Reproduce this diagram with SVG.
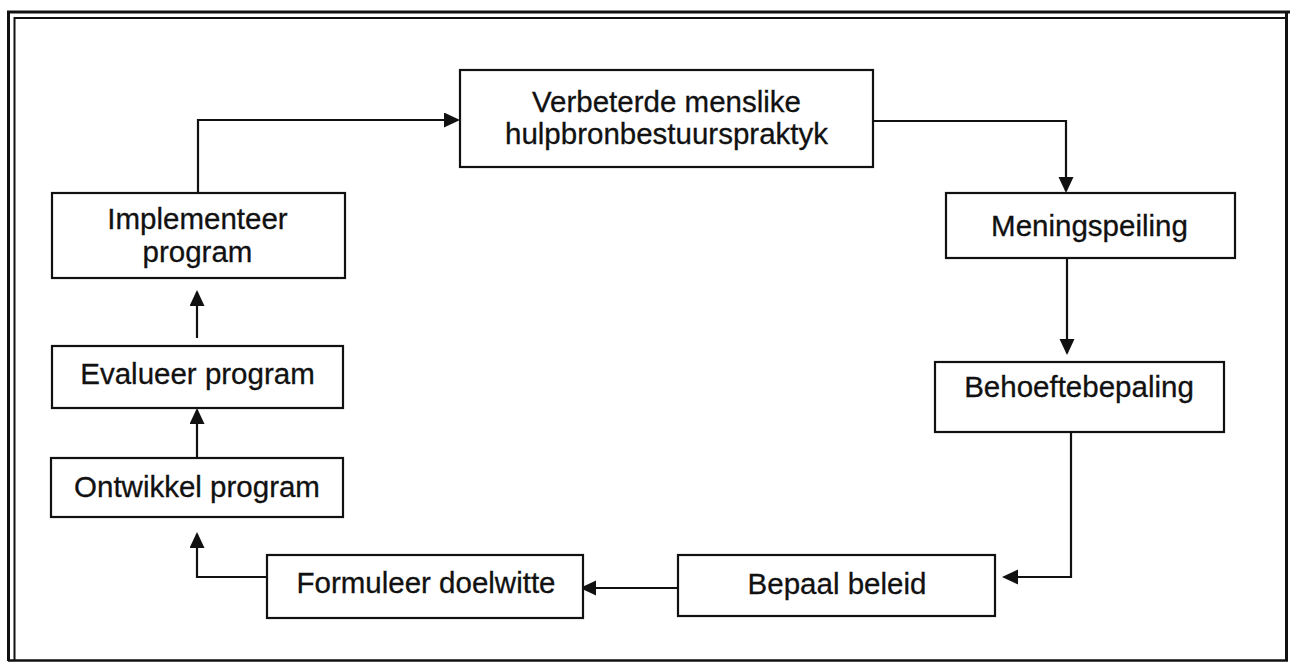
<svg xmlns="http://www.w3.org/2000/svg" width="1290" height="663" viewBox="0 0 1290 663">
  <style>
    .frame { fill: none; stroke: #111; }
    .box { fill: #fff; stroke: #111; stroke-width: 2.2; }
    .lbl { font-family: "Liberation Sans", Arial, sans-serif; font-size: 29.5px; fill: #111; stroke: #111; stroke-width: 0.3; text-anchor: middle; }
    .conn { fill: none; stroke: #111; stroke-width: 2.2; }
  </style>
  <defs>
    <marker id="arrow" markerUnits="userSpaceOnUse" markerWidth="18" markerHeight="16" refX="14" refY="7.5" orient="auto">
      <path d="M0,0 L16,7.5 L0,15 z" fill="#111"/>
    </marker>
  </defs>

  <rect width="1290" height="663" fill="#fff"/>

  <!-- page frame: double rule on top and left, single rule on right and bottom -->
  <g id="frame">
    <path class="frame" stroke-width="3" d="M8.5,661 V12 H1290"/>
    <path class="frame" stroke-width="2" d="M14.5,661 V18 H1287"/>
    <path class="frame" stroke-width="3" d="M1286.5,12 V661"/>
    <path class="frame" stroke-width="2.5" d="M8,660.5 H1288"/>
  </g>

  <!-- connectors -->
  <g id="connectors">
    <path class="conn" marker-end="url(#arrow)" d="M198,193 V120 H458"/>
    <path class="conn" marker-end="url(#arrow)" d="M873,121 H1066 V191"/>
    <path class="conn" marker-end="url(#arrow)" d="M1067,258 V353"/>
    <path class="conn" marker-end="url(#arrow)" d="M1071,432 V577 H1004"/>
    <path class="conn" marker-end="url(#arrow)" d="M678,588 H582"/>
    <path class="conn" marker-end="url(#arrow)" d="M267,577 H197 V534"/>
    <path class="conn" marker-end="url(#arrow)" d="M197,458 V410"/>
    <path class="conn" marker-end="url(#arrow)" d="M197,338 V292"/>
  </g>

  <g id="node-verbeterde">
    <rect class="box" x="460" y="70" width="413" height="97"/>
    <text class="lbl" x="666.5" y="112">Verbeterde menslike</text>
    <text class="lbl" x="666.5" y="144">hulpbronbestuurspraktyk</text>
  </g>

  <g id="node-meningspeiling">
    <rect class="box" x="946" y="193" width="289" height="65"/>
    <text class="lbl" x="1089.5" y="236">Meningspeiling</text>
  </g>

  <g id="node-behoeftebepaling">
    <rect class="box" x="935" y="362" width="289" height="70"/>
    <text class="lbl" x="1079" y="397">Behoeftebepaling</text>
  </g>

  <g id="node-bepaal-beleid">
    <rect class="box" x="678" y="555" width="317" height="61"/>
    <text class="lbl" x="837" y="594">Bepaal beleid</text>
  </g>

  <g id="node-formuleer-doelwitte">
    <rect class="box" x="267" y="555" width="316" height="63"/>
    <text class="lbl" x="426" y="593">Formuleer doelwitte</text>
  </g>

  <g id="node-ontwikkel-program">
    <rect class="box" x="51" y="458" width="292" height="59"/>
    <text class="lbl" x="197" y="497">Ontwikkel program</text>
  </g>

  <g id="node-evalueer-program">
    <rect class="box" x="52" y="346" width="291" height="62"/>
    <text class="lbl" x="197.5" y="384">Evalueer program</text>
  </g>

  <g id="node-implementeer-program">
    <rect class="box" x="52" y="193" width="293" height="85"/>
    <text class="lbl" x="197.5" y="229">Implementeer</text>
    <text class="lbl" x="197.5" y="262">program</text>
  </g>
</svg>
